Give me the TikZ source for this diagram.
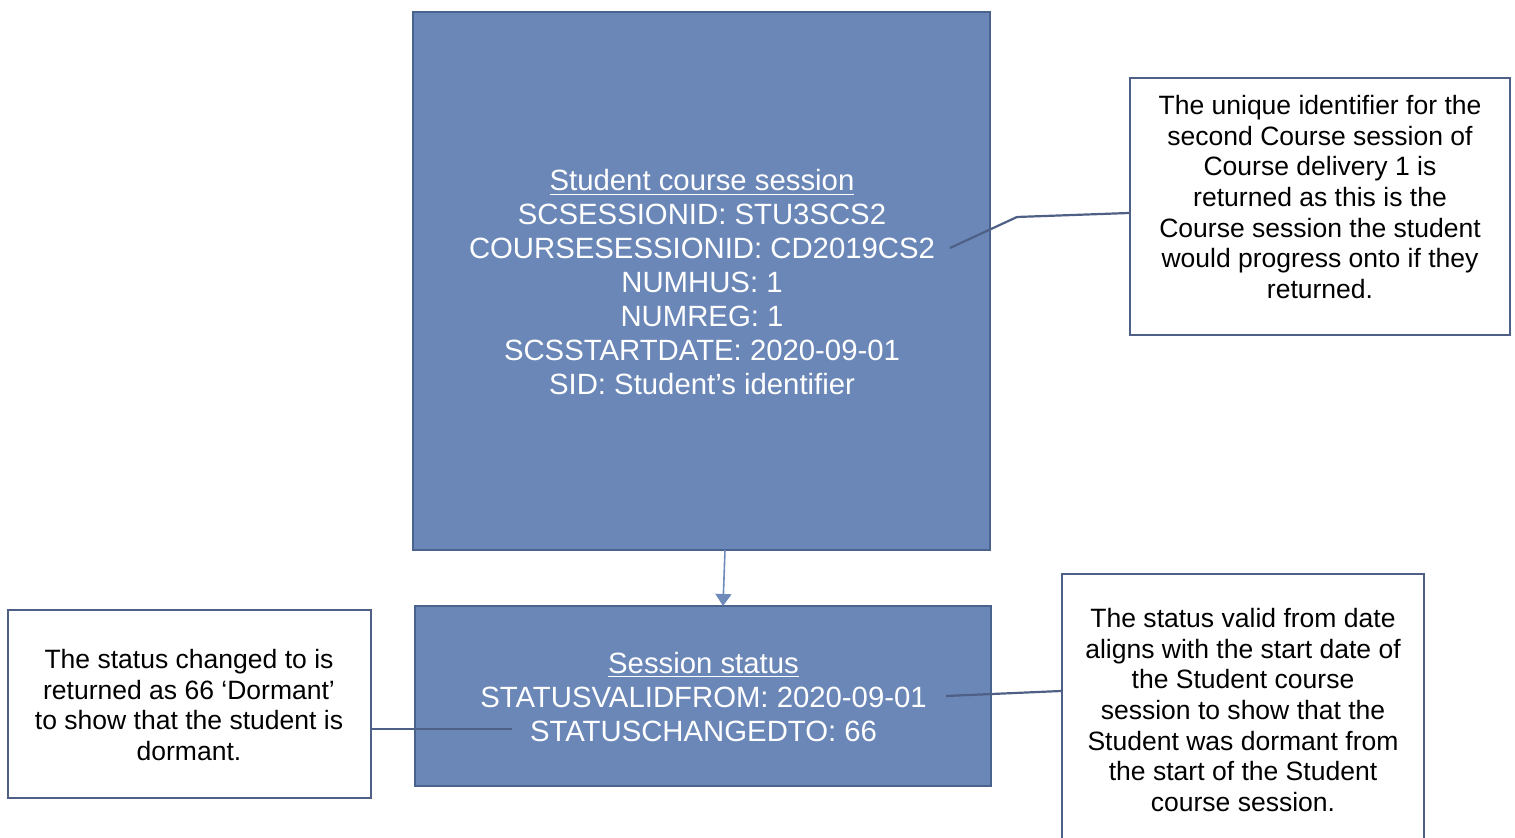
\documentclass[tikz,border=0pt]{standalone}
\usepackage{fontspec}
\setmainfont{Liberation Sans}
\usetikzlibrary{arrows.meta}
\definecolor{boxfill}{RGB}{106,135,184}
\definecolor{boxline}{RGB}{74,98,142}
\definecolor{callline}{RGB}{78,96,134}
\definecolor{arrowc}{RGB}{110,138,186}
\tikzset{
  bluebox/.style={draw=boxline, fill=boxfill, line width=1pt, inner sep=0pt},
  callbox/.style={draw=callline, fill=white, line width=1pt, inner sep=0pt},
  maintext/.style={text=white, align=center, inner sep=0pt, font=\fontsize{14.66pt}{17pt}\selectfont},
  calltext/.style={text=black, align=center, inner sep=0pt, font=\fontsize{13.26pt}{15.35pt}\selectfont},
  link/.style={draw=callline, line width=1.1pt},
}
\begin{document}
\begin{tikzpicture}[x=0.5pt,y=-0.5pt]
\useasboundingbox (0,0) rectangle (1515,838);
\clip (0,0) rectangle (1515,838);
% boxes
\node[bluebox, minimum width=288.5pt, minimum height=269pt] (scs) at (701.5,281) {};
\node[bluebox, minimum width=288pt, minimum height=90pt] (ss) at (703,696) {};
\node[callbox, minimum width=181.5pt, minimum height=94pt] (cl) at (189.5,704) {};
\node[callbox, minimum width=190pt, minimum height=128.5pt] (crt) at (1320,206.5) {};
\node[callbox, minimum width=181pt, minimum height=143pt] (crb) at (1243,717) {};
% texts
\node[maintext] (scst) at (702,282.5) {\underline{Student course session}\\SCSESSIONID: STU3SCS2\\COURSESESSIONID: CD2019CS2\\NUMHUS: 1\\NUMREG: 1\\SCSSTARTDATE: 2020-09-01\\SID: Student’s identifier};
\node[maintext] (sst) at (703.5,697) {\underline{Session status}\\STATUSVALIDFROM: 2020-09-01\\STATUSCHANGEDTO: 66};
\node[calltext] (clt) at (189,705) {The status changed to is\\returned as 66 ‘Dormant’\\to show that the student is\\dormant.};
\node[calltext] (crtt) at (1320,197) {The unique identifier for the\\second Course session of\\Course delivery 1 is\\returned as this is the\\Course session the student\\would progress onto if they\\returned.};
\node[calltext] (crbt) at (1243,710) {The status valid from date\\aligns with the start date of\\the Student course\\session to show that the\\Student was dormant from\\the start of the Student\\course session.};
% connector anchor points
\coordinate (a1) at (950,248);
\coordinate (a1b) at (1017,217);
\coordinate (a2) at (512,729);
\coordinate (a3) at (946,696);
\coordinate (arrS) at (725,550);
\coordinate (arrE) at (723,606);
% connectors
\draw[link] (a1) -- (a1b) -- (crt.west |- 0,213);
\draw[link] (cl.east |- a2) -- (a2);
\draw[link] (a3) -- (crb.west |- 0,691);
\draw[draw=arrowc, line width=0.8pt, -{Triangle[width=8pt,length=6pt]}] (arrS) -- (arrE);
\end{tikzpicture}
\end{document}
